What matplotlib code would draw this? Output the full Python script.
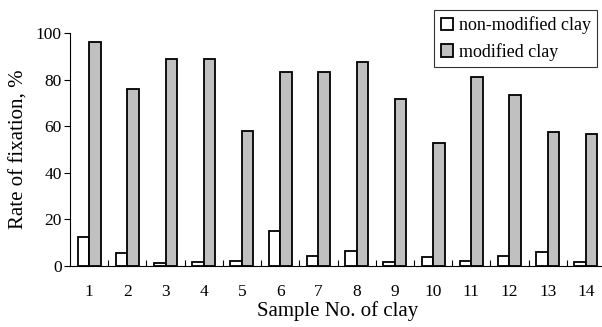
import matplotlib
matplotlib.use("Agg")
import matplotlib.pyplot as plt
import numpy as np

samples = [str(i) for i in range(1, 15)]
non_modified = [12.6, 5.7, 1.3, 1.7, 2.1, 14.9, 4.3, 6.6, 1.9, 3.9, 2.3, 4.4, 6.0, 1.9]
modified = [96.0, 76.1, 88.7, 88.7, 58.0, 83.4, 83.4, 87.6, 71.8, 52.7, 81.1, 73.5, 57.6, 56.8]

plt.rcParams['font.family'] = ['Liberation Serif', 'DejaVu Serif']

fig = plt.figure(figsize=(6.02, 3.27), dpi=100)
W, H = 602, 327
left, right, bottom, top = 70, 605, 266, 33
ax = fig.add_axes([left / W, 1 - bottom / H, (right - left) / W, (bottom - top) / H])

x = np.arange(1, 15)
w = 0.30
ax.bar(x - w / 2, non_modified, width=w, color='white', edgecolor='black', linewidth=1.3, label='non-modified clay')
ax.bar(x + w / 2, modified, width=w, color='#c0c0c0', edgecolor='black', linewidth=1.3, label='modified clay')

ax.set_xlim(0.5, 14.5)
ax.set_ylim(0, 100)
ax.set_yticks(range(0, 101, 20))
ax.set_xticks(x)
ax.set_xticklabels(samples)
ax.set_xticks(np.arange(1.5, 14.5, 1), minor=True)
ax.tick_params(axis='x', which='major', length=0, pad=13, labelsize=12.5)
ax.tick_params(axis='x', which='minor', length=4, direction='in', width=0.8)
ax.tick_params(axis='y', length=4, direction='out', width=0.8, labelsize=12.5, pad=2)
ax.spines['top'].set_visible(False)
ax.spines['right'].set_visible(False)
ax.spines['left'].set_linewidth(0.8)
ax.spines['bottom'].set_linewidth(0.8)

ax.set_xlabel('Sample No. of clay', fontsize=15, labelpad=1)
ax.set_ylabel('Rate of fixation, %', fontsize=15, labelpad=5)

leg = ax.legend(loc='upper right', bbox_to_anchor=((597 - left) / (right - left), 1 + (top - 10) / (bottom - top)),
                fontsize=13, frameon=True, fancybox=False, edgecolor='black', handlelength=0.7,
                handleheight=0.7, handletextpad=0.3, borderpad=0.35, labelspacing=0.5, borderaxespad=0)
leg.get_frame().set_linewidth(0.8)

fig.savefig('out.png', dpi=100)
